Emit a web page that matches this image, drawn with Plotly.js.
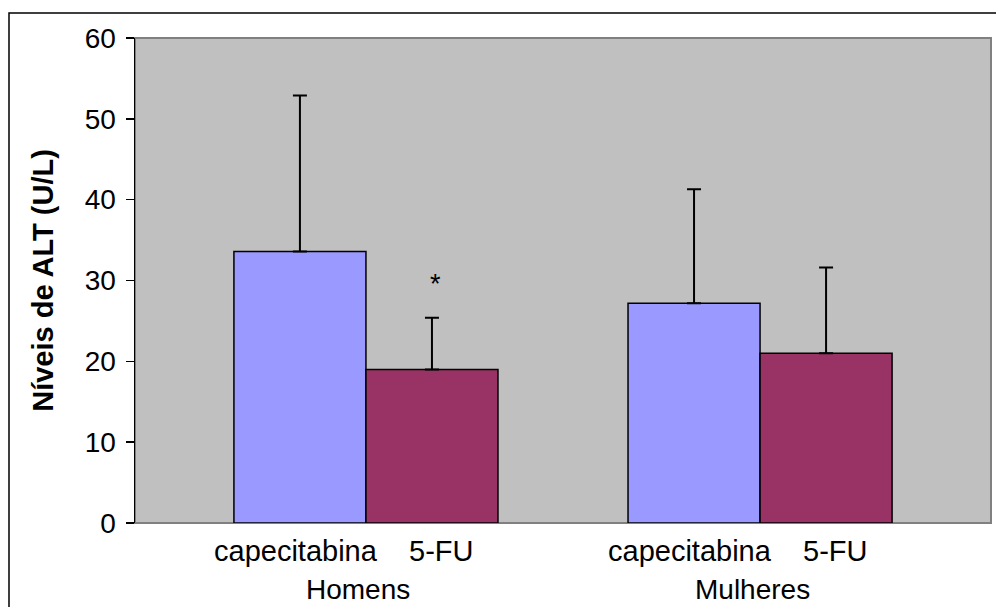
<!DOCTYPE html>
<html>
<head>
<meta charset="utf-8">
<script src="https://cdn.plot.ly/plotly-3.0.1.min.js"></script>
<style>html,body{margin:0;padding:0;background:#fff;}#chart{width:996px;height:607px;}</style>
</head>
<body>
<div id="chart"></div>
<script>
// Data
const groups = ["Homens", "Mulheres"];
const treatments = ["capecitabina", "5-FU"];
const capecitabinaMean = [33.6, 27.2];
const capecitabinaSD = [19.3, 14.1];
const fuMean = [19.0, 21.0];
const fuSD = [6.4, 10.6];
const yTicks = [0, 10, 20, 30, 40, 50, 60];
const significance = [{group: 0, treatment: 1, text: "*", y: 30.2}];

const groupPos = groups.map((g, i) => i);
const bargap = 0.33;
const barW = (1 - bargap) / treatments.length;
const offsets = treatments.map((t, j) => -((1 - bargap) / 2) + barW * (j + 0.5));
const labelShift = [-4, 9];

const font = "Liberation Sans, Arial, sans-serif";

const traces = [
  {
    type: "bar", name: treatments[0], x: groupPos, y: capecitabinaMean,
    marker: {color: "#9999ff", line: {color: "#000", width: 1.5}},
    error_y: {type: "data", symmetric: false, array: capecitabinaSD, arrayminus: capecitabinaSD.map(() => 0),
      color: "#000", thickness: 2, width: 7}
  },
  {
    type: "bar", name: treatments[1], x: groupPos, y: fuMean,
    marker: {color: "#993366", line: {color: "#000", width: 1.5}},
    error_y: {type: "data", symmetric: false, array: fuSD, arrayminus: fuSD.map(() => 0),
      color: "#000", thickness: 2, width: 7}
  }
];

const annotations = [];
groups.forEach((g, i) => {
  treatments.forEach((t, j) => {
    annotations.push({x: groupPos[i] + offsets[j], y: 0, xref: "x", yref: "paper",
      text: t, showarrow: false, yanchor: "middle", yshift: -28, xshift: labelShift[j],
      font: {family: font, size: 29, color: "#000"}});
  });
  annotations.push({x: groupPos[i], y: 0, xref: "x", yref: "paper",
    text: g, showarrow: false, yanchor: "middle", yshift: -66, xshift: -8,
    font: {family: font, size: 28, color: "#000"}});
});
significance.forEach(s => {
  annotations.push({x: groupPos[s.group] + offsets[s.treatment], y: s.y, xref: "x", yref: "y",
    text: s.text, showarrow: false, yanchor: "middle", yshift: -5, xshift: 4,
    font: {family: font, size: 27, color: "#000"}});
});

const layout = {
  width: 996, height: 607,
  margin: {l: 135, r: 5, t: 38, b: 84},
  paper_bgcolor: "#ffffff",
  plot_bgcolor: "#c0c0c0",
  showlegend: false,
  barmode: "group",
  bargap: bargap,
  bargroupgap: 0,
  xaxis: {
    type: "linear", range: [-0.586, 1.586], showticklabels: false, ticks: "",
    showgrid: false, zeroline: false, showline: false, fixedrange: true
  },
  yaxis: {
    range: [0, 60], tickvals: yTicks, ticktext: yTicks.map(String),
    ticks: "outside", ticklen: 8, tickwidth: 1.5, tickcolor: "#000",
    showline: true, linecolor: "#000", linewidth: 1.5,
    showgrid: false, zeroline: false, ticklabelstandoff: 4,
    tickfont: {family: font, size: 28, color: "#000"},
    title: {text: "Níveis de ALT (U/L)", standoff: 22,
      font: {family: font, size: 29, color: "#000", weight: "bold"}}
  },
  annotations: annotations,
  shapes: [
    {type: "rect", xref: "paper", yref: "paper", x0: 0, x1: 1, y0: 0, y1: 1,
      line: {color: "#808080", width: 2}, layer: "below"},
    {type: "rect", xref: "paper", yref: "paper", x0: -0.1472, x1: 1.02, y0: -0.2, y1: 1.0515,
      line: {color: "#000", width: 1.5}, fillcolor: "rgba(0,0,0,0)", layer: "below"}
  ]
};

Plotly.newPlot("chart", traces, layout, {displayModeBar: false, staticPlot: true});
</script>
</body>
</html>
